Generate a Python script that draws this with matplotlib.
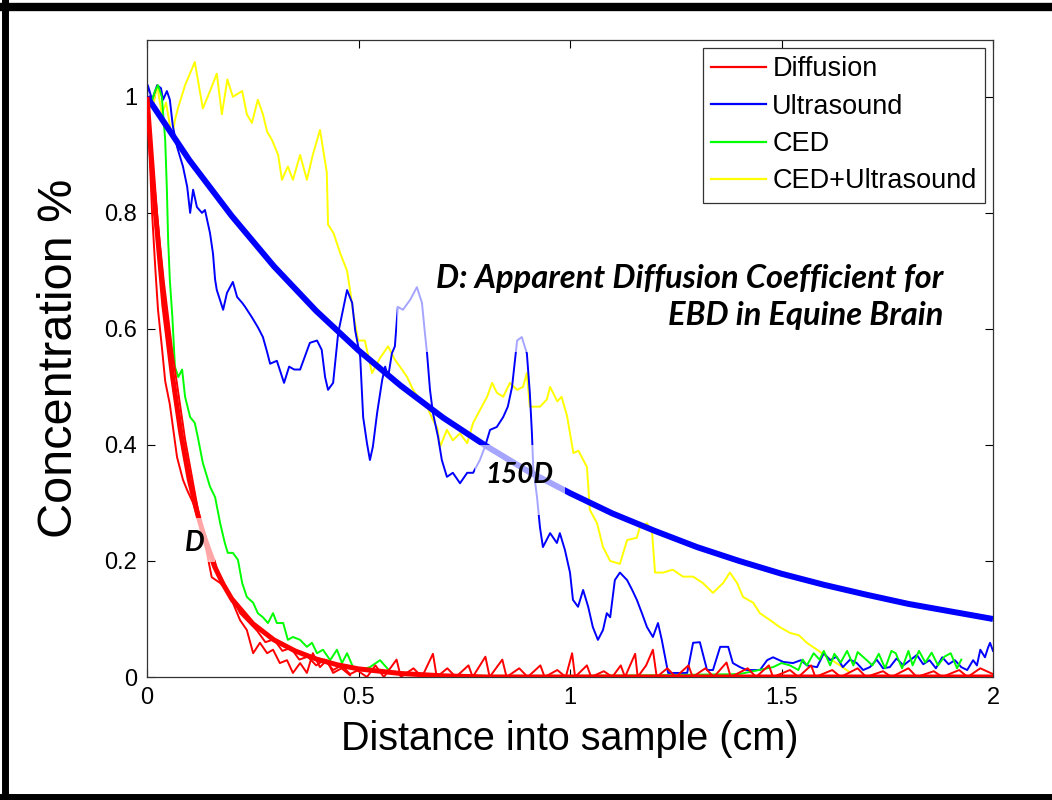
import matplotlib
matplotlib.use("Agg")
import matplotlib.pyplot as plt
from matplotlib.lines import Line2D
from matplotlib.patches import Rectangle

# ------------------------------------------------------------------
# Data (x in cm, y as fraction)
# ------------------------------------------------------------------
yellow_x = [0.0, 0.008, 0.016, 0.024, 0.035, 0.045, 0.059, 0.066, 0.073, 0.09, 0.113, 0.132, 0.149,
            0.165, 0.177, 0.19, 0.203, 0.225, 0.236, 0.248, 0.262, 0.274, 0.284, 0.296, 0.31, 0.319,
            0.333, 0.345, 0.362, 0.378, 0.392, 0.409, 0.425, 0.428, 0.441, 0.457, 0.473, 0.48, 0.487,
            0.499, 0.515, 0.532, 0.551, 0.57, 0.586, 0.598, 0.615, 0.629, 0.645, 0.662, 0.676, 0.686,
            0.693, 0.709, 0.723, 0.74, 0.757, 0.771, 0.787, 0.804, 0.816, 0.827, 0.842, 0.858, 0.875,
            0.889, 0.898, 0.905, 0.929, 0.945, 0.953, 0.97, 0.98, 0.993, 1.008, 1.02, 1.04, 1.047,
            1.064, 1.078, 1.095, 1.118, 1.135, 1.158, 1.165, 1.182, 1.194, 1.201, 1.22, 1.243, 1.267,
            1.291, 1.314, 1.338, 1.362, 1.378, 1.395, 1.409, 1.433, 1.449, 1.473, 1.496, 1.52, 1.541,
            1.56, 1.584, 1.607, 1.638, 1.662]
yellow_y = [0.97, 1.0, 0.99, 1.02, 0.97, 0.99, 0.93, 0.96, 0.98, 1.02, 1.06, 0.98, 1.01,
            1.04, 0.97, 1.03, 1.0, 1.01, 0.97, 0.955, 0.995, 0.97, 0.94, 0.925, 0.9, 0.857,
            0.88, 0.857, 0.9, 0.857, 0.9, 0.943, 0.87, 0.78, 0.765, 0.73, 0.7, 0.667, 0.63,
            0.58, 0.58, 0.524, 0.55, 0.57, 0.547, 0.535, 0.517, 0.495, 0.478, 0.466, 0.443, 0.43,
            0.397, 0.426, 0.408, 0.42, 0.403, 0.438, 0.46, 0.483, 0.507, 0.49, 0.483, 0.507, 0.495,
            0.5, 0.524, 0.466, 0.466, 0.478, 0.5, 0.475, 0.483, 0.45, 0.386, 0.39, 0.362, 0.288,
            0.265, 0.224, 0.2, 0.195, 0.236, 0.24, 0.258, 0.265, 0.25, 0.18, 0.18, 0.185, 0.173,
            0.173, 0.162, 0.145, 0.162, 0.18, 0.162, 0.138, 0.128, 0.11, 0.098, 0.086, 0.076, 0.072,
            0.059, 0.047, 0.035, 0.02, 0.008]

blue_x = [0.0, 0.002, 0.012, 0.024, 0.033, 0.038, 0.047, 0.054, 0.061, 0.071, 0.078, 0.085, 0.095,
          0.102, 0.109, 0.118, 0.13, 0.137, 0.149, 0.156, 0.161, 0.165, 0.18, 0.189, 0.203, 0.213,
          0.225, 0.232, 0.248, 0.262, 0.274, 0.284, 0.291, 0.307, 0.324, 0.336, 0.348, 0.362, 0.385,
          0.402, 0.413, 0.421, 0.428, 0.44, 0.452, 0.473, 0.485, 0.492, 0.504, 0.511, 0.52, 0.527,
          0.534, 0.544, 0.556, 0.563, 0.57, 0.579, 0.586, 0.593, 0.605, 0.622, 0.638, 0.65, 0.657,
          0.662, 0.669, 0.676, 0.688, 0.697, 0.709, 0.723, 0.74, 0.757, 0.771, 0.787, 0.799, 0.811,
          0.827, 0.842, 0.853, 0.863, 0.875, 0.886, 0.898, 0.905, 0.91, 0.913, 0.922, 0.929, 0.936,
          0.953, 0.969, 0.976, 0.988, 1.0, 1.007, 1.019, 1.031, 1.043, 1.054, 1.066, 1.078, 1.087,
          1.095, 1.106, 1.118, 1.135, 1.147, 1.158, 1.17, 1.182, 1.196, 1.208, 1.217, 1.225, 1.232,
          1.277, 1.291, 1.307, 1.324, 1.338, 1.355, 1.374, 1.385, 1.402, 1.418, 1.449, 1.466, 1.48,
          1.504, 1.527, 1.546, 1.56, 1.584, 1.6, 1.615, 1.63, 1.645, 1.662, 1.678, 1.693, 1.709,
          1.725, 1.74, 1.756, 1.772, 1.788, 1.804, 1.82, 1.835, 1.85, 1.865, 1.88, 1.895, 1.91,
          1.925, 1.939, 1.953, 1.962, 1.97, 1.981, 1.988, 1.993, 2.0]
blue_y = [1.0, 1.02, 0.995, 1.02, 1.015, 0.995, 1.01, 0.995, 0.95, 0.914, 0.897, 0.88, 0.845,
          0.8, 0.84, 0.81, 0.8, 0.805, 0.765, 0.73, 0.685, 0.667, 0.633, 0.662, 0.681, 0.655,
          0.645, 0.638, 0.62, 0.603, 0.586, 0.56, 0.54, 0.545, 0.507, 0.535, 0.53, 0.53, 0.576,
          0.58, 0.564, 0.517, 0.495, 0.507, 0.593, 0.667, 0.645, 0.598, 0.552, 0.448, 0.403, 0.374,
          0.397, 0.455, 0.512, 0.535, 0.517, 0.558, 0.57, 0.638, 0.633, 0.65, 0.672, 0.645, 0.593,
          0.558, 0.495, 0.455, 0.414, 0.374, 0.345, 0.352, 0.334, 0.352, 0.352, 0.374, 0.397, 0.426,
          0.431, 0.448, 0.466, 0.5, 0.58, 0.586, 0.558, 0.49, 0.42, 0.362, 0.31, 0.258, 0.224,
          0.248, 0.231, 0.248, 0.219, 0.18, 0.133, 0.121, 0.15, 0.121, 0.086, 0.064, 0.081, 0.11,
          0.103, 0.167, 0.18, 0.167, 0.15, 0.133, 0.11, 0.086, 0.069, 0.093, 0.064, 0.034, 0.007,
          0.007, 0.059, 0.06, 0.012, 0.012, 0.052, 0.052, 0.024, 0.017, 0.012, 0.012, 0.029, 0.034,
          0.026, 0.024, 0.029, 0.02, 0.017, 0.041, 0.029, 0.035, 0.017, 0.03, 0.024, 0.012, 0.017,
          0.03, 0.015, 0.017, 0.032, 0.02, 0.029, 0.038, 0.022, 0.029, 0.015, 0.034, 0.022, 0.029,
          0.017, 0.012, 0.029, 0.02, 0.047, 0.034, 0.05, 0.059, 0.045]

green_x = [0.0, 0.01, 0.019, 0.026, 0.035, 0.043, 0.047, 0.05, 0.054, 0.06, 0.066, 0.074, 0.083,
           0.09, 0.102, 0.113, 0.12, 0.132, 0.149, 0.161, 0.173, 0.184, 0.191, 0.203, 0.215, 0.225,
           0.236, 0.251, 0.262, 0.274, 0.286, 0.298, 0.307, 0.322, 0.333, 0.345, 0.362, 0.378, 0.39,
           0.402, 0.416, 0.433, 0.449, 0.461, 0.473, 0.487, 0.504, 0.527, 0.551, 0.574, 0.61, 0.65,
           0.8, 1.0, 1.2, 1.4, 1.48, 1.5, 1.52, 1.54, 1.55, 1.56, 1.576, 1.59, 1.6, 1.615, 1.625,
           1.64, 1.655, 1.67, 1.68, 1.7, 1.715, 1.73, 1.745, 1.76, 1.77, 1.785, 1.8, 1.81, 1.825,
           1.84, 1.855, 1.87, 1.885, 1.9, 1.915, 1.925]
green_y = [0.97, 0.99, 1.01, 1.02, 1.0, 0.926, 0.84, 0.753, 0.684, 0.62, 0.535, 0.517, 0.53,
           0.483, 0.448, 0.438, 0.414, 0.369, 0.328, 0.31, 0.265, 0.231, 0.214, 0.214, 0.202, 0.162,
           0.138, 0.128, 0.11, 0.103, 0.093, 0.11, 0.093, 0.093, 0.064, 0.069, 0.064, 0.052, 0.059,
           0.041, 0.047, 0.029, 0.047, 0.024, 0.041, 0.017, 0.012, 0.017, 0.029, 0.01, 0.007, 0.004,
           0.002, 0.002, 0.003, 0.005, 0.017, 0.024, 0.02, 0.012, 0.03, 0.02, 0.041, 0.03, 0.045,
           0.02, 0.04, 0.025, 0.045, 0.02, 0.043, 0.03, 0.02, 0.04, 0.015, 0.045, 0.041, 0.015,
           0.045, 0.02, 0.045, 0.025, 0.042, 0.02, 0.035, 0.041, 0.015, 0.03]

red_a_x = [0.0, 0.005, 0.012, 0.02, 0.026, 0.035, 0.043, 0.054, 0.071, 0.085, 0.095, 0.109, 0.125,
           0.14, 0.153, 0.173, 0.189, 0.203, 0.22, 0.236, 0.251, 0.267, 0.284, 0.298, 0.314, 0.331,
           0.345, 0.362, 0.378, 0.392, 0.409, 0.425, 0.44, 0.46, 0.48]
red_a_y = [1.0, 0.92, 0.8, 0.7, 0.633, 0.57, 0.51, 0.47, 0.379, 0.34, 0.322, 0.3, 0.26,
           0.22, 0.172, 0.162, 0.15, 0.128, 0.098, 0.081, 0.041, 0.059, 0.041, 0.047, 0.024, 0.029,
           0.007, 0.024, 0.007, 0.041, 0.017, 0.029, 0.007, 0.015, 0.003]

red_b_x = [0.0, 0.01, 0.02, 0.03, 0.04, 0.05, 0.06, 0.07, 0.08, 0.09, 0.1, 0.11, 0.12, 0.13, 0.14,
           0.15, 0.16, 0.17, 0.18, 0.19, 0.2, 0.21, 0.22, 0.24, 0.26, 0.28, 0.3, 0.32, 0.34, 0.36,
           0.38, 0.4, 0.42, 0.44, 0.46, 0.48, 0.5]
red_b_y = [0.98, 0.9, 0.83, 0.75, 0.68, 0.62, 0.56, 0.51, 0.46, 0.41, 0.37, 0.33, 0.29, 0.26, 0.24,
           0.22, 0.2, 0.175, 0.16, 0.15, 0.13, 0.125, 0.11, 0.095, 0.08, 0.06, 0.065, 0.045, 0.05, 0.03,
           0.035, 0.02, 0.03, 0.012, 0.02, 0.005, 0.012]

red_tail_x = [0.5, 0.52, 0.54, 0.56, 0.59, 0.6, 0.63, 0.65, 0.676, 0.685, 0.71, 0.73, 0.76, 0.77,
              0.8, 0.81, 0.84, 0.85, 0.88, 0.9, 0.93, 0.94, 0.97, 0.99, 1.005, 1.012, 1.04, 1.05,
              1.08, 1.1, 1.12, 1.13, 1.154, 1.16, 1.18, 1.196, 1.205, 1.23, 1.25, 1.28, 1.29, 1.32,
              1.34, 1.37, 1.38, 1.42, 1.44, 1.47, 1.48, 1.52, 1.54, 1.57, 1.58, 1.62, 1.64, 1.68,
              1.7, 1.74, 1.76, 1.8, 1.82, 1.86, 1.88, 1.92, 1.94, 1.97, 2.0]
red_tail_y = [0.01, 0.0, 0.02, 0.0, 0.03, 0.0, 0.015, 0.0, 0.04, 0.0, 0.015, 0.0, 0.02, 0.0,
              0.035, 0.0, 0.03, 0.0, 0.015, 0.0, 0.02, 0.0, 0.012, 0.0, 0.041, 0.0, 0.02, 0.0,
              0.01, 0.0, 0.02, 0.0, 0.04, 0.0, 0.02, 0.047, 0.0, 0.015, 0.0, 0.02, 0.0, 0.015,
              0.0, 0.025, 0.0, 0.015, 0.0, 0.02, 0.0, 0.012, 0.0, 0.02, 0.0, 0.012, 0.0, 0.015,
              0.0, 0.01, 0.0, 0.015, 0.0, 0.01, 0.0, 0.012, 0.0, 0.015, 0.005]

# fitted profiles
red_fit_x = [0.0, 0.02, 0.04, 0.06, 0.08, 0.1, 0.12, 0.14, 0.16, 0.18, 0.2, 0.25, 0.3, 0.35,
             0.4, 0.45, 0.5, 0.6, 0.7, 0.8, 1.0, 2.0]
red_fit_y = [1.0, 0.8, 0.64, 0.52, 0.42, 0.34, 0.28, 0.23, 0.19, 0.16, 0.135, 0.092, 0.064, 0.045,
             0.031, 0.021, 0.014, 0.006, 0.002, 0.0, 0.0, 0.0]
blue_fit_x = [0.0, 0.1, 0.2, 0.3, 0.4, 0.5, 0.6, 0.7, 0.8, 0.9, 1.0, 1.1, 1.2, 1.3, 1.4, 1.5,
              1.6, 1.7, 1.8, 1.9, 2.0]
blue_fit_y = [1.0, 0.891, 0.795, 0.708, 0.631, 0.563, 0.502, 0.447, 0.399, 0.355, 0.317, 0.282,
              0.252, 0.224, 0.2, 0.178, 0.159, 0.142, 0.126, 0.113, 0.1]

legend_labels = ["Diffusion", "Ultrasound", "CED", "CED+Ultrasound"]
x_ticks = [0, 0.5, 1, 1.5, 2]
x_tick_labels = ["0", "0.5", "1", "1.5", "2"]
y_ticks = [0, 0.2, 0.4, 0.6, 0.8, 1]
y_tick_labels = ["0", "0.2", "0.4", "0.6", "0.8", "1"]

RED, BLUE, GREEN, YELLOW = "#ff0000", "#0000ff", "#00ff00", "#ffff00"

plt.rcParams["font.family"] = ["Liberation Sans", "DejaVu Sans"]

W, H = 1052, 800
fig = plt.figure(figsize=(W / 100, H / 100), dpi=100)
ax = fig.add_axes([147 / W, 1 - 677 / H, (993 - 147) / W, (677 - 40) / H])


def fig_rect(x0, y0, x1, y1):
    """Rectangle given in picture pixels (top-left origin) -> figure coords."""
    return (x0 / W, 1 - y1 / H), (x1 - x0) / W, (y1 - y0) / H


thin = 1.4
ax.plot(yellow_x, yellow_y, color=YELLOW, lw=thin, zorder=2)
ax.plot(green_x, green_y, color=GREEN, lw=thin, zorder=2.2)
ax.plot(blue_x, blue_y, color=BLUE, lw=thin, zorder=2.1)
ax.plot(red_a_x, red_a_y, color=RED, lw=thin, zorder=2.3)
ax.plot(red_b_x, red_b_y, color=RED, lw=thin, zorder=2.3)
ax.plot(red_tail_x, red_tail_y, color=RED, lw=thin, zorder=2.3)
ax.plot(blue_fit_x, blue_fit_y, color=BLUE, lw=4.3, zorder=3, solid_capstyle="butt")
ax.plot(red_fit_x, red_fit_y, color=RED, lw=3.6, zorder=3.1, solid_capstyle="butt")

# whitish text boxes sitting over the lines
for x0, y0, x1, y1 in [(397, 250, 955, 352), (475, 445, 565, 515), (183, 518, 215, 562)]:
    xy, w, h = fig_rect(x0, y0, x1, y1)
    ax.add_patch(Rectangle(xy, w, h, transform=fig.transFigure, facecolor="white",
                           edgecolor="none", alpha=0.65, zorder=4))

note_font = dict(family=["Lato", "DejaVu Sans"], style="italic", weight="bold", color="black")
ax.text(943 / W, 1 - 297 / H, "D: Apparent Diffusion Coefficient for\nEBD in Equine Brain",
        transform=fig.transFigure, ha="right", va="center", linespacing=1.3, zorder=5,
        size=23.5, **note_font)
ax.text(0.88, 0.348, "150D", ha="center", va="center", zorder=5, size=20, **note_font)
ax.text(0.113, 0.231, "D", ha="center", va="center", zorder=5, size=20, **note_font)

ax.set_xlim(0, 2)
ax.set_ylim(0, 1.098)
ax.set_xticks(x_ticks)
ax.set_xticklabels(x_tick_labels)
ax.set_yticks(y_ticks)
ax.set_yticklabels(y_tick_labels)
ax.tick_params(direction="in", length=6, width=0.8, top=True, right=True, labelsize=17, pad=7)
for spine in ax.spines.values():
    spine.set_linewidth(0.9)
    spine.set_color("#333333")

ax.set_xlabel("Distance into sample (cm)", fontsize=28.5, labelpad=8)
ax.set_ylabel("Concentration %", fontsize=35, labelpad=16)

handles = [Line2D([], [], color=c, lw=1.6) for c in (RED, BLUE, GREEN, YELLOW)]
leg = ax.legend(handles, legend_labels, loc="upper right", fontsize=19.5, frameon=True,
                fancybox=False, handlelength=2.0, handletextpad=0.25, labelspacing=0.42,
                borderpad=0.3, borderaxespad=0.3, framealpha=1)
leg.get_frame().set_edgecolor("#333333")
leg.get_frame().set_linewidth(0.9)
leg.set_zorder(6)

# thick black frame round the picture
fig.add_artist(Line2D([0, 1], [1 - 7 / H, 1 - 7 / H], color="black", lw=6, transform=fig.transFigure))
fig.add_artist(Line2D([5 / W, 5 / W], [0, 1], color="black", lw=5, transform=fig.transFigure))
fig.add_artist(Line2D([0, 1], [3 / H, 3 / H], color="black", lw=5, transform=fig.transFigure))

fig.savefig("out.png", dpi=100)
